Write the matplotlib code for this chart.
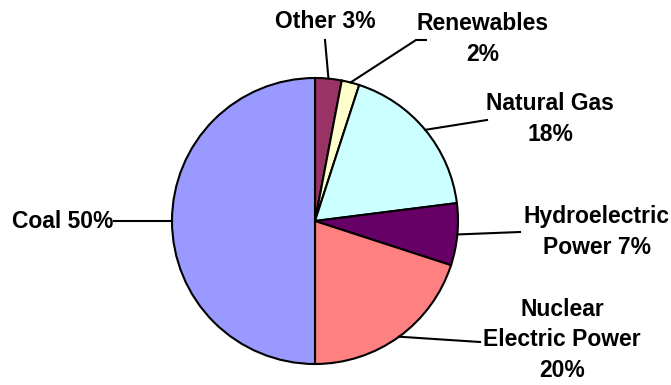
import numpy as np
import matplotlib.pyplot as plt

# Data
labels = ['Other 3%', 'Renewables\n2%', 'Natural Gas\n18%', 'Hydroelectric\nPower 7%',
          'Nuclear\nElectric Power\n20%', 'Coal 50%']
shares = [3, 2, 18, 7, 20, 50]
colors = ['#993366', '#FFFFCC', '#CCFFFF', '#660066', '#FF8080', '#9999FF']

# Layout (pixel coords, y up)
W, H = 671, 385
cx, cy, r = 315, 164, 143
text_pos = [(325, 363), (483, 346), (550, 266), (597, 153), (562, 45), (113, 163)]
text_ha = ['center', 'center', 'center', 'center', 'center', 'right']
# leader line waypoints after the wedge edge point
line_pts = [[(325, 345)],
            [(416, 345), (426, 345)],
            [(487, 265)],
            [(520, 153)],
            [(480, 43)],
            [(114, 164)]]

plt.rcParams['font.family'] = ['Liberation Sans', 'DejaVu Sans']
fig = plt.figure(figsize=(W / 100, H / 100), dpi=100)
ax = fig.add_axes([0, 0, 1, 1])

ax.pie(shares, colors=colors, startangle=90, counterclock=False,
       center=(cx, cy), radius=r, frame=True,
       wedgeprops=dict(edgecolor='black', linewidth=1.5))
ax.set_xlim(0, W)
ax.set_ylim(0, H)
ax.set_aspect('equal')
ax.axis('off')

# leader lines start at each wedge's mid angle
cum = np.cumsum([0] + shares)
for i, lab in enumerate(labels):
    mid = (cum[i] + cum[i + 1]) / 2 / sum(shares) * 360
    ang = np.deg2rad(90 - mid)
    xs = [cx + r * np.cos(ang)] + [p[0] for p in line_pts[i]]
    ys = [cy + r * np.sin(ang)] + [p[1] for p in line_pts[i]]
    ax.plot(xs, ys, color='black', linewidth=1.5)
    ax.text(text_pos[i][0], text_pos[i][1], lab, ha=text_ha[i], va='center',
            fontsize=16.5, fontweight='bold', linespacing=1.4)

fig.savefig('out.png', dpi=100)
